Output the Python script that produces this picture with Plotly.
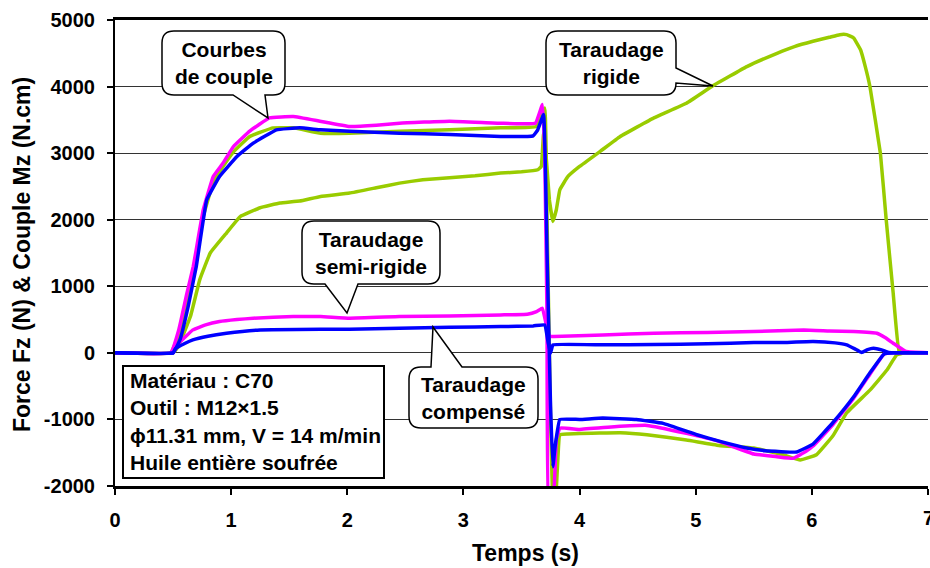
import plotly.graph_objects as go

# ---------------- data ----------------
# Taraudage rigide - effort Fz (green)
t_fz_rigide = [0, 0.5, 0.545, 0.65, 0.73, 0.82, 0.96, 1.08, 1.25, 1.42, 1.59, 1.77, 2.02, 2.25, 2.45, 2.65,
               2.88, 3.1, 3.32, 3.5, 3.64, 3.67, 3.69, 3.71, 3.74, 3.77, 3.80, 3.83, 3.9, 4.0, 4.18, 4.35,
               4.64, 4.92, 5.15, 5.44, 5.70, 5.85, 6.01, 6.15, 6.24, 6.30, 6.36, 6.42, 6.46, 6.50, 6.59,
               6.64, 6.70, 6.75, 6.8, 7.0]
fz_rigide = [0, 0, 95, 550, 1100, 1500, 1800, 2050, 2180, 2250, 2280, 2350, 2400, 2480, 2550, 2600,
             2630, 2660, 2700, 2720, 2750, 2800, 3300, 3000, 2300, 1975, 2150, 2450, 2650, 2800, 3030, 3250,
             3530, 3750, 4015, 4300, 4500, 4600, 4680, 4740, 4780, 4780, 4730, 4550, 4300, 4000, 3000,
             2000, 900, 30, 0, 0]

# Taraudage rigide - couple Mz (green)
t_mz_rigide = [0, 0.48, 0.55, 0.62, 0.68, 0.76, 0.85, 0.93, 1.02, 1.16, 1.36, 1.54, 1.77, 2.02, 2.45, 2.88,
               3.32, 3.63, 3.70, 3.72, 3.745, 3.77, 3.79, 3.81, 3.83, 3.9, 4.0, 4.35, 4.58, 4.92, 5.2,
               5.50, 5.75, 5.90, 6.04, 6.18, 6.30, 6.50, 6.65, 6.73, 6.8, 7.0]
mz_rigide = [0, 0, 280, 820, 1250, 2050, 2580, 2800, 3020, 3250, 3380, 3380, 3300, 3300, 3330, 3350,
             3380, 3400, 3680, 2000, -500, -2200, -2300, -1700, -1230, -1220, -1210, -1200, -1230, -1310, -1390,
             -1430, -1530, -1610, -1530, -1250, -900, -560, -250, -30, 0, 0]

# Taraudage semi-rigide - couple Mz (magenta)
t_mz_semi = [0, 0.48, 0.55, 0.62, 0.674, 0.76, 0.846, 0.93, 1.02, 1.16, 1.33, 1.535, 1.765, 2.02, 2.25,
             2.45, 2.88, 3.32, 3.62, 3.68, 3.70, 3.72, 3.735, 3.77, 3.80, 3.83, 4.0, 4.3, 4.58, 4.92, 5.2,
             5.50, 5.70, 5.84, 5.95, 6.01, 6.18, 6.36, 6.50, 6.62, 6.7, 7.0]
mz_semi = [0, 0, 350, 900, 1300, 2150, 2650, 2850, 3100, 3330, 3530, 3550, 3480, 3400, 3420,
           3450, 3480, 3450, 3450, 3730, 3000, 500, -2300, -2300, -1300, -1130, -1150, -1110, -1090, -1210, -1330,
           -1520, -1560, -1585, -1480, -1400, -1080, -680, -320, -20, 0, 0]

# Taraudage compensé - couple Mz (blue)
t_mz_comp = [0, 0.5, 0.56, 0.63, 0.70, 0.79, 0.90, 1.05, 1.19, 1.39, 1.59, 1.77, 2.02, 2.45, 2.88, 3.32,
             3.60, 3.64, 3.69, 3.72, 3.75, 3.77, 3.79, 3.83, 4.0, 4.2, 4.49, 4.72, 5.01, 5.21, 5.44, 5.6,
             5.87, 6.01, 6.18, 6.36, 6.50, 6.62, 6.7, 7.0]
mz_comp = [0, 0, 200, 700, 1300, 2300, 2650, 2950, 3150, 3350, 3380, 3350, 3330, 3300, 3280, 3250,
           3260, 3350, 3580, 1500, -800, -1710, -1400, -1000, -1000, -980, -1000, -1060, -1230, -1330, -1430, -1470,
           -1490, -1370, -1050, -660, -300, -20, 0, 0]

# Taraudage semi-rigide - effort Fz (magenta)
t_fz_semi = [0, 0.5, 0.52, 0.6, 0.67, 0.78, 0.90, 1.05, 1.19, 1.535, 1.77, 2.02, 2.45, 2.88, 3.32, 3.55,
             3.63, 3.68, 3.71, 3.74, 3.78, 4.2, 4.64, 5.1, 5.50, 5.93, 6.15, 6.36, 6.56, 6.63, 6.70, 6.81, 7.0]
fz_semi = [0, 0, 95, 230, 345, 420, 470, 500, 520, 545, 545, 520, 545, 555, 570, 580,
           620, 670, 450, 250, 245, 270, 295, 305, 320, 345, 330, 320, 295, 230, 145, 20, 0]

# Taraudage compensé - effort Fz (blue)
t_fz_comp = [0, 0.5, 0.52, 0.6, 0.67, 0.8, 0.96, 1.25, 1.77, 2.02, 2.45, 2.88, 3.32, 3.60, 3.70, 3.73,
             3.75, 3.77, 4.2, 4.64, 5.1, 5.50, 5.73, 6.01, 6.20, 6.30, 6.37, 6.43, 6.48, 6.53, 6.60, 6.66, 7.0]
fz_comp = [0, 0, 60, 140, 195, 250, 295, 345, 355, 355, 370, 385, 395, 405, 420, 150,
           0, 120, 120, 125, 135, 155, 155, 170, 150, 120, 60, 5, 50, 70, 45, 5, 0]

x_ticks = [0, 1, 2, 3, 4, 5, 6, 7]
y_ticks = [-2000, -1000, 0, 1000, 2000, 3000, 4000, 5000]

# ---------------- style ----------------
GREEN = "#99CC00"
PINK = "#FF00FF"
BLUE = "#0000FF"
FONT = "Liberation Sans, Arial, sans-serif"
W, H = 930, 568
ML, MR, MT, MB = 115, 2, 20, 82
PW, PH = W - ML - MR, H - MT - MB

fig = go.Figure()
series = [
    (t_fz_rigide, fz_rigide, GREEN, "Fz rigide"),
    (t_mz_rigide, mz_rigide, GREEN, "Mz rigide"),
    (t_mz_semi, mz_semi, PINK, "Mz semi-rigide"),
    (t_fz_semi, fz_semi, PINK, "Fz semi-rigide"),
    (t_mz_comp, mz_comp, BLUE, "Mz compensé"),
    (t_fz_comp, fz_comp, BLUE, "Fz compensé"),
]
for tx, vy, col, name in series:
    fig.add_trace(go.Scatter(x=tx, y=vy, mode="lines", name=name,
                             line=dict(color=col, width=3.5, shape="spline", smoothing=0.25)))


def P(x, y):
    return ((x - ML) / PW, (H - MB - y) / PH)


def callout(x0, y0, x1, y1, side, a, b, tip, r=12):
    pts = []
    def add(cmd, *xy):
        pts.append((cmd, xy))
    add("M", (x0 + r, y0))
    if side == "top":
        add("L", (a, y0)); add("L", tip); add("L", (b, y0))
    add("L", (x1 - r, y0))
    add("Q", (x1, y0), (x1, y0 + r))
    if side == "right":
        add("L", (x1, a)); add("L", tip); add("L", (x1, b))
    add("L", (x1, y1 - r))
    add("Q", (x1, y1), (x1 - r, y1))
    if side == "bottom":
        add("L", (b, y1)); add("L", tip); add("L", (a, y1))
    add("L", (x0 + r, y1))
    add("Q", (x0, y1), (x0, y1 - r))
    add("L", (x0, y0 + r))
    add("Q", (x0, y0), (x0 + r, y0))
    s = ""
    for cmd, xy in pts:
        s += cmd + " " + " ".join("%.5f,%.5f" % P(*p) for p in xy) + " "
    return s + "Z"


callouts = [
    ((162, 31, 285, 95), "bottom", 233, 265, (268, 118), "Courbes<br>de couple"),
    ((546, 31, 676, 95), "right", 68, 83, (713, 86), "Taraudage<br>rigide"),
    ((302, 221, 440, 284), "bottom", 325, 358, (347, 313), "Taraudage<br>semi-rigide"),
    ((409, 367, 538, 428), "top", 431, 462, (433, 327), "Taraudage<br>compensé"),
]
shapes = []
annotations = []
for (x0, y0, x1, y1), side, a, b, tip, txt in callouts:
    shapes.append(dict(type="path", xref="paper", yref="paper",
                       path=callout(x0, y0, x1, y1, side, a, b, tip),
                       fillcolor="white", line=dict(color="black", width=1.5), layer="above"))
    cx, cy = P((x0 + x1) / 2, (y0 + y1) / 2)
    annotations.append(dict(x=cx, y=cy, xref="paper", yref="paper", text=txt, showarrow=False,
                            xanchor="center", yanchor="middle", align="center",
                            font=dict(family=FONT, size=21, color="black", weight="bold")))

# info box
bx0, by0 = P(123, 366)
bx1, by1 = P(384, 478)
shapes.append(dict(type="rect", xref="paper", yref="paper", x0=bx0, y0=by1, x1=bx1, y1=by0,
                   fillcolor="white", line=dict(color="black", width=2), layer="above"))
ix, iy = P(128, 421)
annotations.append(dict(x=ix, y=iy, xref="paper", yref="paper",
                        text="Matériau : C70<br>Outil : M12×1.5<br>ϕ11.31 mm, V = 14 m/min<br>Huile entière soufrée",
                        showarrow=False, xanchor="left", yanchor="middle", align="left",
                        font=dict(family=FONT, size=21, color="black", weight="bold")))

# axis titles
tx, ty = P(22, 255)
annotations.append(dict(x=tx, y=ty, xref="paper", yref="paper", text="Force Fz (N) & Couple Mz (N.cm)",
                        textangle=-90, showarrow=False, xanchor="center", yanchor="middle",
                        font=dict(family=FONT, size=23, color="black", weight="bold")))
tx, ty = P(525, 553)
annotations.append(dict(x=tx, y=ty, xref="paper", yref="paper", text="Temps (s)",
                        showarrow=False, xanchor="center", yanchor="middle",
                        font=dict(family=FONT, size=23, color="black", weight="bold")))
# last x tick label, partly cut by the right edge as in the reference
annotations.append(dict(x=x_ticks[-1], y=0, xref="x", yref="paper", yshift=-32,
                        text=str(x_ticks[-1]), showarrow=False, xanchor="center", yanchor="middle",
                        font=dict(family=FONT, size=20, color="black", weight="bold")))

fig.update_layout(
    width=W, height=H,
    margin=dict(l=ML, r=MR, t=MT, b=MB, autoexpand=False),
    paper_bgcolor="white", plot_bgcolor="white",
    showlegend=False,
    font=dict(family=FONT, color="black", weight="bold"),
    shapes=shapes, annotations=annotations,
    xaxis=dict(range=[0, 7], tickvals=x_ticks[:-1] + [x_ticks[-1]],
               ticktext=[str(v) for v in x_ticks[:-1]] + [""],
               showgrid=False, zeroline=False, showline=True, linecolor="black", linewidth=2.5,
               mirror=True, ticks="outside", ticklen=6, tickwidth=1.5, tickcolor="black",
               tickfont=dict(family=FONT, size=20, color="black", weight="bold"),
               ticklabelstandoff=8),
    yaxis=dict(range=[-2000, 5000], tickvals=y_ticks, ticktext=[str(v) for v in y_ticks],
               showgrid=True, gridcolor="#333333", gridwidth=1, zeroline=False,
               showline=True, linecolor="black", linewidth=2,
               ticks="outside", ticklen=6, tickwidth=1.5, tickcolor="black",
               tickfont=dict(family=FONT, size=20, color="black", weight="bold"),
               ticklabelstandoff=8),
)

fig.write_html("out.html", config={"displayModeBar": False},
               post_script="document.body.style.margin='0';document.body.style.padding='0';"
                           "document.body.style.overflow='hidden';")
